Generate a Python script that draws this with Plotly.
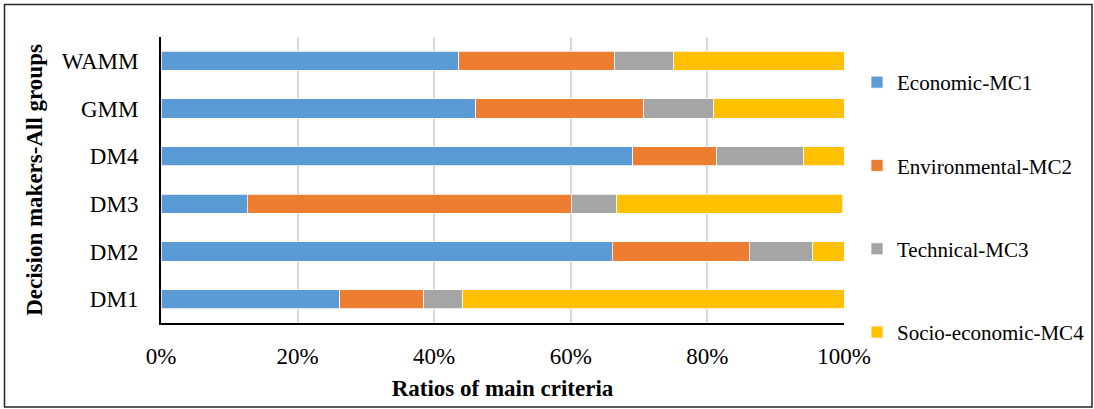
import plotly.graph_objects as go

categories = ["DM1", "DM2", "DM3", "DM4", "GMM", "WAMM"]
economic_mc1 = [26.2, 66.1, 12.6, 69.1, 46.1, 43.6]
environmental_mc2 = [12.3, 20.0, 47.5, 12.3, 24.6, 22.8]
technical_mc3 = [5.7, 9.3, 6.6, 12.7, 10.2, 8.7]
socio_economic_mc4 = [55.8, 4.6, 33.1, 5.9, 19.1, 24.9]
x_ticks = [0, 20, 40, 60, 80, 100]
x_tick_labels = ["0%", "20%", "40%", "60%", "80%", "100%"]

series = [
    ("Economic-MC1", economic_mc1, "#5B9BD5"),
    ("Environmental-MC2", environmental_mc2, "#ED7D31"),
    ("Technical-MC3", technical_mc3, "#A5A5A5"),
    ("Socio-economic-MC4", socio_economic_mc4, "#FFC000"),
]

W, H = 1094, 409
ML, MR, MT, MB = 161, 250, 37, 86
PW, PH = W - ML - MR, H - MT - MB

def px_x(px):
    return (px - ML) / PW

def px_y(py):
    return (H - MB - py) / PH

FONT = "Liberation Serif"

fig = go.Figure()
for i, (name, vals, color) in enumerate(series):
    fig.add_trace(go.Bar(
        y=categories, x=vals, name=name, orientation="h",
        marker=dict(color=color, line=dict(color="white", width=0.75)),
        legendgroup=f"g{i}",
    ))

fig.update_layout(
    width=W, height=H,
    margin=dict(l=ML, r=MR, t=MT, b=MB, pad=0, autoexpand=False),
    barmode="stack", bargap=0.6,
    plot_bgcolor="white", paper_bgcolor="white",
    font=dict(family=FONT, size=23, color="black"),
    xaxis=dict(
        range=[0, 100], tickmode="array", tickvals=x_ticks, ticktext=x_tick_labels,
        showgrid=True, gridcolor="#D9D9D9", gridwidth=1.5,
        showline=True, linecolor="black", linewidth=1.5,
        zeroline=False, ticks="", ticklabelstandoff=12, automargin=False,
        title=dict(text="<b>Ratios of main criteria</b>", standoff=12,
                   font=dict(family=FONT, size=23)),
        tickfont=dict(family=FONT, size=23),
    ),
    yaxis=dict(
        type="category", automargin=False,
        showgrid=False, showline=True, linecolor="black", linewidth=2,
        ticks="", ticklabelstandoff=16,
        title=dict(text="<b>Decision makers-All groups</b>", standoff=13,
                   font=dict(family=FONT, size=23)),
        tickfont=dict(family=FONT, size=23),
    ),
    legend=dict(
        x=px_x(857), y=px_y(62), xanchor="left", yanchor="top",
        traceorder="grouped", tracegroupgap=53, maxheight=400,
        font=dict(family=FONT, size=21), bgcolor="rgba(0,0,0,0)",
    ),
    shapes=[dict(
        type="rect", xref="paper", yref="paper",
        x0=px_x(4.5), x1=px_x(1092), y0=px_y(407), y1=px_y(4.5),
        line=dict(color="#262626", width=1.5), fillcolor="rgba(0,0,0,0)",
        layer="below",
    )],
)

fig.write_html("out.html", config={"displayModeBar": False},
               post_script="document.body.style.margin='0';")
